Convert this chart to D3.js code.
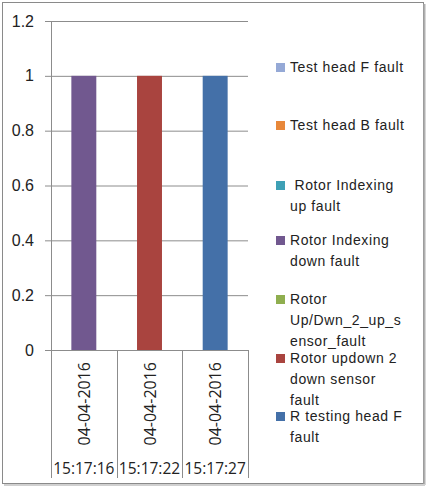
<!DOCTYPE html>
<html>
<head>
<meta charset="utf-8">
<script src="https://cdn.jsdelivr.net/npm/d3@7"></script>
<style>
  body { margin: 0; background: #fff; }
  svg { font-family: "Open Sans", "Noto Sans", sans-serif; }
  .axis path { display: none; }
  .axis line { stroke: #8c8c8c; }
  .axis text { fill: #222; font-size: 16px; }
</style>
</head>
<body>
<svg id="chart"></svg>
<script>
const dates = ['04-04-2016', '04-04-2016', '04-04-2016'];
const times = ['15:17:16', '15:17:22', '15:17:27'];
const seriesNames = [
    'Test head F fault',
    'Test head B fault',
    'Rotor Indexing up fault',
    'Rotor Indexing down fault',
    'Rotor Up/Dwn_2_up_sensor_fault',
    'Rotor updown 2 down sensor fault',
    'R testing head F fault'
];
// one value per timestamp, for every series
const testHeadF = [0, 0, 0];
const testHeadB = [0, 0, 0];
const rotorIndexUp = [0, 0, 0];
const rotorIndexDown = [1, 0, 0];
const rotorUpDwn2Up = [0, 0, 0];
const rotorUpdown2Down = [0, 1, 0];
const rTestingHeadF = [0, 0, 1];
const yTicks = [0, 0.2, 0.4, 0.6, 0.8, 1, 1.2];

// legend lines as wrapped in the original
const legendLines = [
    ['Test head F fault'],
    ['Test head B fault'],
    [' Rotor Indexing', 'up fault'],
    ['Rotor Indexing', 'down fault'],
    ['Rotor', 'Up/Dwn_2_up_s', 'ensor_fault'],
    ['Rotor updown 2', 'down sensor', 'fault'],
    ['R testing head F', 'fault']
];
const colors = ['#95a9d6', '#e8883a', '#3ea0b5', '#71588f', '#8fae4f', '#a9443f', '#4470a8'];

const allSeries = [testHeadF, testHeadB, rotorIndexUp, rotorIndexDown, rotorUpDwn2Up, rotorUpdown2Down, rTestingHeadF];
const table = times.map((t, i) => {
    const row = { key: i };
    seriesNames.forEach((s, j) => row[s] = allSeries[j][i]);
    return row;
});

const width = 430, height = 488;
const margin = { top: 21, left: 51, right: 182, bottom: 138 };

const svg = d3.select('#chart')
    .attr('width', width)
    .attr('height', height);

// frame
svg.append('rect')
    .attr('x', 2.5).attr('y', 2.5)
    .attr('width', 421).attr('height', 481)
    .attr('fill', '#fff')
    .attr('stroke', '#8a8a8a')
    .attr('stroke-width', 1);
svg.append('line')
    .attr('x1', 424.5).attr('x2', 424.5).attr('y1', 4).attr('y2', 485)
    .attr('stroke', '#b0b0b0').attr('stroke-width', 2);
svg.append('line')
    .attr('x1', 4).attr('x2', 425).attr('y1', 485).attr('y2', 485)
    .attr('stroke', '#d0d0d0').attr('stroke-width', 2);

const innerW = width - margin.left - margin.right;
const innerH = height - margin.top - margin.bottom;

const x = d3.scaleBand()
    .domain(times.map((t, i) => i))
    .range([0, innerW])
    .paddingInner(0.62)
    .paddingOuter(0.31);

const xCat = d3.scaleBand()
    .domain(times.map((t, i) => i))
    .range([0, innerW]);

const y = d3.scaleLinear()
    .domain([0, 1.2])
    .range([innerH, 0]);

const g = svg.append('g')
    .attr('transform', `translate(${margin.left},${margin.top})`);

// grid + y axis
g.append('g')
    .attr('class', 'axis y-axis')
    .call(d3.axisLeft(y).tickValues(yTicks).tickSize(-innerW).tickPadding(17)
        .tickFormat(d => d3.format('')(+d.toFixed(1))))
    .call(a => a.selectAll('line').attr('x1', -6).attr('x2', innerW));

g.append('line')
    .attr('x1', 0.5).attr('x2', 0.5)
    .attr('y1', 0).attr('y2', innerH)
    .attr('stroke', '#8c8c8c');

// stacked bars
const stack = d3.stack().keys(seriesNames)(table);
g.selectAll('g.layer')
    .data(stack)
    .join('g')
    .attr('class', 'layer')
    .attr('fill', (d, i) => colors[i])
    .selectAll('rect')
    .data(d => d)
    .join('rect')
    .attr('x', d => x(d.data.key))
    .attr('width', x.bandwidth())
    .attr('y', d => y(d[1]))
    .attr('height', d => y(d[0]) - y(d[1]));

// category table below axis
const cat = g.append('g').attr('transform', `translate(0,${innerH})`);
cat.selectAll('line.sep')
    .data(d3.range(times.length + 1))
    .join('line')
    .attr('class', 'sep')
    .attr('x1', i => Math.round(i * xCat.step()) + 0.5)
    .attr('x2', i => Math.round(i * xCat.step()) + 0.5)
    .attr('y1', 0)
    .attr('y2', 128)
    .attr('stroke', '#8c8c8c');

cat.selectAll('text.date')
    .data(dates)
    .join('text')
    .attr('class', 'date')
    .attr('transform', (d, i) => `translate(${xCat(i) + xCat.bandwidth() / 2 + 6},12) rotate(-90)`)
    .attr('text-anchor', 'end')
    .attr('fill', '#222')
    .style('font-size', '16px')
    .text(d => d);

cat.selectAll('text.time')
    .data(times)
    .join('text')
    .attr('class', 'time')
    .attr('x', (d, i) => xCat(i) + xCat.bandwidth() / 2)
    .attr('y', 124)
    .attr('text-anchor', 'middle')
    .attr('fill', '#222')
    .style('font-size', '15.5px')
    .text(d => d);

// legend
const legendY = [67, 125, 185, 240, 299, 358, 416];
const legend = svg.append('g').attr('class', 'legend');
legendLines.forEach((lines, i) => {
    const item = legend.append('g').attr('transform', `translate(276,${legendY[i]})`);
    item.append('rect')
        .attr('x', 0).attr('y', -4)
        .attr('width', 9).attr('height', 9)
        .attr('fill', colors[i]);
    item.append('text')
        .attr('fill', '#222')
        .style('font-family', '"Liberation Sans", Arial, sans-serif')
        .style('font-size', '14px')
        .style('letter-spacing', '0.6px')
        .selectAll('tspan')
        .data(lines)
        .join('tspan')
        .attr('x', 14)
        .attr('y', (d, k) => k * 21 + 5)
        .attr('xml:space', 'preserve')
        .text(d => d);
});
</script>
</body>
</html>
